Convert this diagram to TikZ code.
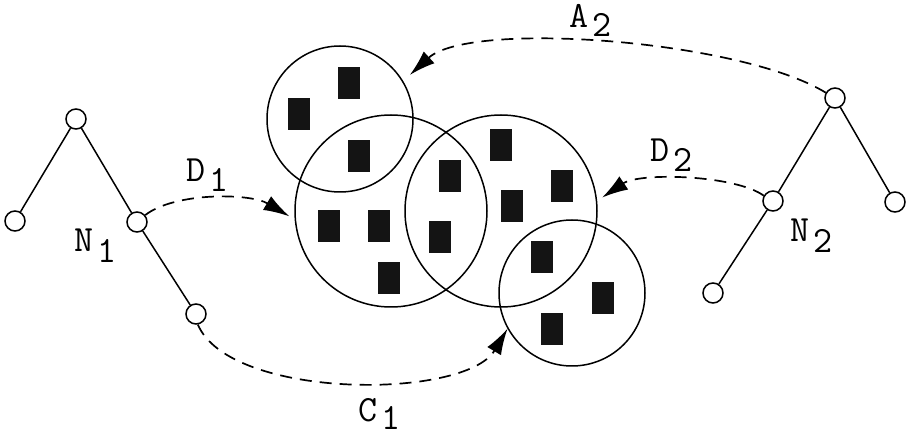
\documentclass[tikz,border=0pt]{standalone}
\usetikzlibrary{arrows.meta}
\begin{document}
\begin{tikzpicture}[x=1pt,y=-1pt,
  tnode/.style={circle,draw,line width=1.5pt,minimum size=20pt,inner sep=0pt},
  setc/.style={circle,draw,line width=1.5pt,inner sep=0pt},
  elem/.style={fill=black!92,minimum width=22pt,minimum height=32pt,inner sep=0pt},
  tedge/.style={line width=1.5pt},
  link/.style={line width=1.7pt,dash pattern=on 12pt off 8pt,-{Latex[length=26pt,width=16pt]}},
  lab/.style={font=\ttfamily\fontsize{37}{37}\selectfont,inner sep=0pt,anchor=base west}]
\useasboundingbox (0,0) rectangle (911,438);
% sets
\node[setc,minimum size=146pt] (S1) at (340,119) {};
\node[setc,minimum size=192pt] (S2) at (391,211) {};
\node[setc,minimum size=192pt] (S3) at (501,211) {};
\node[setc,minimum size=146pt] (S4) at (572,293) {};
% elements
\node[elem] (e1) at (349,83) {};
\node[elem] (e2) at (299,114) {};
\node[elem] (e3) at (359,156) {};
\node[elem] (e4) at (329,226) {};
\node[elem] (e5) at (379,226) {};
\node[elem] (e6) at (389,278) {};
\node[elem] (e7) at (450,176) {};
\node[elem] (e8) at (440,237) {};
\node[elem] (e9) at (501,145) {};
\node[elem] (e10) at (562,186) {};
\node[elem] (e11) at (512,206) {};
\node[elem] (e12) at (542,257) {};
\node[elem] (e13) at (603,298) {};
\node[elem] (e14) at (552,329) {};
% left tree
\node[tnode] (L0) at (76,119) {};
\node[tnode] (L1) at (15,221) {};
\node[tnode] (N1) at (137,222) {};
\node[tnode] (L2) at (196,314) {};
\draw[tedge] (L0) -- (L1);
\draw[tedge] (L0) -- (N1);
\draw[tedge] (N1) -- (L2);
% right tree
\node[tnode] (R0) at (835,98) {};
\node[tnode] (N2) at (773,201) {};
\node[tnode] (R1) at (895,202) {};
\node[tnode] (R2) at (713,293) {};
\draw[tedge] (R0) -- (N2);
\draw[tedge] (R0) -- (R1);
\draw[tedge] (N2) -- (R2);
% labels
\node[lab] (tN1) at (74,252) {N\kern4pt\raisebox{-11pt}{1}};
\node[lab] (tD1) at (186,182) {D\kern4pt\raisebox{-10pt}{1}};
\node[lab] (tN2) at (790,242) {N\kern4pt\raisebox{-11pt}{2}};
\node[lab] (tD2) at (650,162) {D\kern4pt\raisebox{-10pt}{2}};
\node[lab] (tC1) at (358,421) {C\kern4pt\raisebox{-9pt}{1}};
\node[lab] (tA2) at (569,28) {A\kern4pt\raisebox{-9pt}{2}};
% links
\draw[link,shorten >=6pt] (N1.40) .. controls (175,192) and (250,193) .. (S2.185);
\draw[link,shorten >=9pt] (R0.150) .. controls (740,40) and (470,20) .. (S1.31);
\draw[link,shorten >=6pt] (N2.150) .. controls (735,175) and (640,172) .. (S3.6);
\draw[link] (L2.280) .. controls (230,400) and (465,400) .. (S4.209);
\end{tikzpicture}
\end{document}
